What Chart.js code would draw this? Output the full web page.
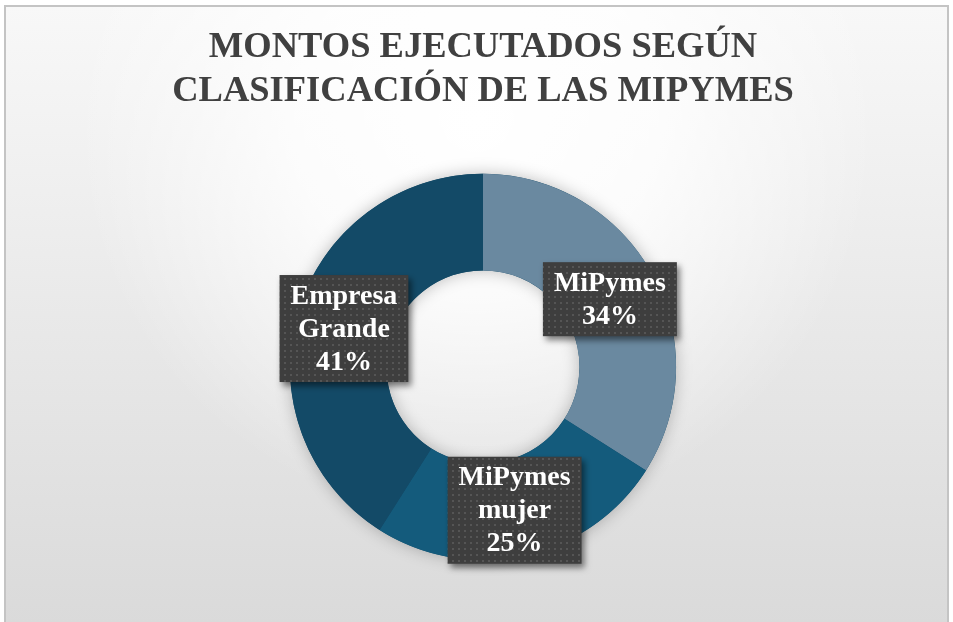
<!DOCTYPE html>
<html>
<head>
<meta charset="utf-8">
<script src="https://cdn.jsdelivr.net/npm/chart.js@4.4.1/dist/chart.umd.min.js"></script>
<style>
  html, body { margin: 0; padding: 0; background: #ffffff; }
  #wrap { width: 953px; height: 622px; position: relative; }
</style>
</head>
<body>
<div id="wrap"><canvas id="c"></canvas></div>
<script>
// ---- data ----
const titleLines = ['MONTOS EJECUTADOS SEGÚN', 'CLASIFICACIÓN DE LAS MIPYMES'];
const categories = ['MiPymes', 'MiPymes mujer', 'Empresa Grande'];
const shares = [34, 25, 41];
// ---- styles ----
const sliceColors = ['#6a89a0', '#145b7c', '#134a67'];

const SERIF = "'Liberation Serif', serif";

function makePattern(ctx) {
  const p = document.createElement('canvas');
  p.width = 6; p.height = 6;
  const pc = p.getContext('2d');
  pc.fillStyle = '#3e3e3e';
  pc.fillRect(0, 0, 6, 6);
  pc.fillStyle = '#555555';
  pc.fillRect(2, 2, 2, 2);
  return ctx.createPattern(p, 'repeat');
}

const backgroundPlugin = {
  id: 'bgPanel',
  beforeDraw(chart) {
    const { ctx, width, height } = chart;
    ctx.save();
    ctx.fillStyle = '#ffffff';
    ctx.fillRect(0, 0, width, height);
    const x0 = 5, y0 = 6, x1 = width - 5, y1 = height + 2;
    const lin = ctx.createLinearGradient(0, y0, 0, y1);
    lin.addColorStop(0, '#f8f8f8');
    lin.addColorStop(1, '#dadada');
    ctx.fillStyle = lin;
    ctx.fillRect(x0, y0, x1 - x0, y1 - y0);
    const rad = ctx.createRadialGradient(width / 2, 120, 0, width / 2, 120, 400);
    rad.addColorStop(0, 'rgba(255,255,255,1)');
    rad.addColorStop(0.45, 'rgba(255,255,255,0.8)');
    rad.addColorStop(1, 'rgba(255,255,255,0)');
    ctx.fillStyle = rad;
    ctx.fillRect(x0, y0, x1 - x0, y1 - y0);
    ctx.strokeStyle = '#c4c4c4';
    ctx.lineWidth = 2;
    ctx.strokeRect(x0, y0, x1 - x0, y1 - y0);
    ctx.restore();
  }
};

const ringShadowPlugin = {
  id: 'ringShadow',
  beforeDatasetsDraw(chart) {
    const meta = chart.getDatasetMeta(0);
    if (!meta.data.length) return;
    const a = meta.data[0];
    const ctx = chart.ctx;
    ctx.save();
    ctx.shadowColor = 'rgba(0,0,0,0.25)';
    ctx.shadowBlur = 16;
    ctx.fillStyle = sliceColors[2];
    ctx.beginPath();
    ctx.arc(a.x, a.y, a.outerRadius, 0, Math.PI * 2);
    ctx.arc(a.x, a.y, a.innerRadius, 0, Math.PI * 2, true);
    ctx.fill();
    ctx.restore();
  }
};

const boxLabelPlugin = {
  id: 'boxLabels',
  afterDatasetsDraw(chart) {
    const ctx = chart.ctx;
    const meta = chart.getDatasetMeta(0);
    const pattern = makePattern(ctx);
    const lh = 33;
    meta.data.forEach((arc, i) => {
      const pos = arc.tooltipPosition();
      const lines = categories[i].split(' ').concat([shares[i] + '%']);
      ctx.save();
      ctx.font = 'bold 28px ' + SERIF;
      const w = Math.max(...lines.map(l => ctx.measureText(l).width)) + 22;
      const h = lines.length * lh + 8;
      const bx = pos.x - w / 2, by = pos.y - h / 2 + 2;
      ctx.shadowColor = 'rgba(0,0,0,0.5)';
      ctx.shadowBlur = 6;
      ctx.shadowOffsetX = 3;
      ctx.shadowOffsetY = 4;
      ctx.fillStyle = pattern;
      ctx.fillRect(bx, by, w, h);
      ctx.shadowColor = 'transparent';
      ctx.fillStyle = '#ffffff';
      ctx.textAlign = 'center';
      ctx.textBaseline = 'middle';
      const startY = by + h / 2 - (lines.length - 1) * lh / 2 + 1;
      lines.forEach((l, k) => ctx.fillText(l, pos.x, startY + k * lh));
      ctx.restore();
    });
  }
};

new Chart(document.getElementById('c'), {
  type: 'doughnut',
  data: {
    labels: categories,
    datasets: [{
      data: shares,
      backgroundColor: sliceColors,
      borderWidth: 0,
      hoverOffset: 0
    }]
  },
  options: {
    responsive: true,
    maintainAspectRatio: false,
    animation: false,
    cutout: '50%',
    layout: { padding: { top: 0, left: 13, right: 0, bottom: 62 } },
    plugins: {
      legend: { display: false },
      tooltip: { enabled: false },
      title: {
        display: true,
        text: titleLines,
        color: '#404040',
        font: { family: SERIF, size: 36.5, weight: 'bold', lineHeight: 1.19 },
        padding: { top: 26, bottom: 61 }
      }
    }
  },
  plugins: [backgroundPlugin, ringShadowPlugin, boxLabelPlugin]
});
</script>
</body>
</html>
